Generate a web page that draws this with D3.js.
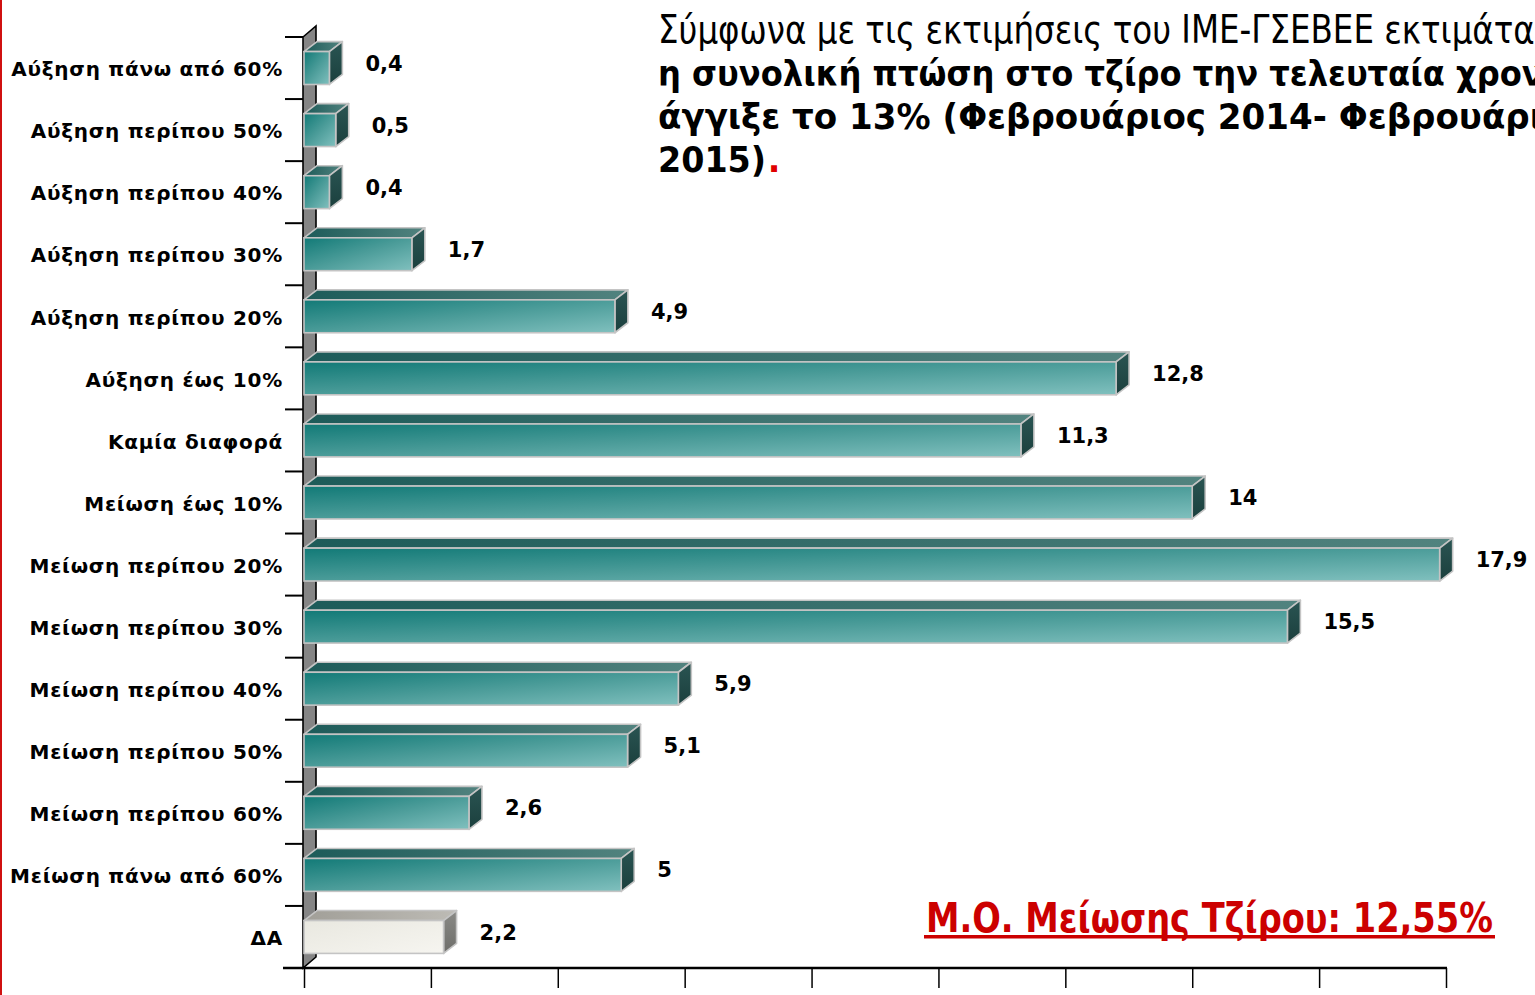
<!DOCTYPE html>
<html><head><meta charset="utf-8">
<script src="https://cdn.jsdelivr.net/npm/d3@7"></script>
<style>html,body{margin:0;padding:0;background:#fff;overflow:hidden}</style>
</head><body>
<svg id="c" width="1535" height="995" xmlns="http://www.w3.org/2000/svg"></svg>
<script>
const categories = ["Αύξηση πάνω από 60%","Αύξηση περίπου 50%","Αύξηση περίπου 40%","Αύξηση περίπου 30%","Αύξηση περίπου 20%","Αύξηση έως 10%","Καμία διαφορά","Μείωση έως 10%","Μείωση περίπου 20%","Μείωση περίπου 30%","Μείωση περίπου 40%","Μείωση περίπου 50%","Μείωση περίπου 60%","Μείωση πάνω από 60%","ΔΑ"];
const values = [0.4,0.5,0.4,1.7,4.9,12.8,11.3,14,17.9,15.5,5.9,5.1,2.6,5,2.2];
const xTicks = [0,2,4,6,8,10,12,14,16,18];
const titleLines = [
  "Σύμφωνα με τις εκτιμήσεις του ΙΜΕ-ΓΣΕΒΕΕ εκτιμάται",
  "η συνολική πτώση στο τζίρο την τελευταία χρονιά",
  "άγγιξε το 13% (Φεβρουάριος 2014- Φεβρουάριος",
  "2015)"
];
// visible part of each title line, used to fit the condensed width
const titleVisible = [
  "Σύμφωνα με τις εκτιμήσεις του ΙΜΕ-ΓΣΕΒΕΕ εκτιμάτα",
  "η συνολική πτώση στο τζίρο την τελευταία χρο",
  "άγγιξε το 13% (Φεβρουάριος 2014- Φεβρουάρ",
  "2015)"
];
const avgNote = "Μ.Ο. Μείωσης Τζίρου: 12,55%";

const svg = d3.select("#c");
const W = 1535, H = 995;
const FONT = "'DejaVu Sans', Verdana, sans-serif";

// left red border
svg.append("rect").attr("x",0).attr("y",0).attr("width",2).attr("height",H).attr("fill","#d01010");

const x = d3.scaleLinear().domain([0,18]).range([304,1446]);
const y = d3.scaleBand().domain(categories).range([37,968]).padding(0);
const depthX = 13, depthY = 10;
const faceH = y.bandwidth()*0.53;

const defs = svg.append("defs");
function lg(id, stops, x2, y2){
  const g = defs.append("linearGradient").attr("id",id).attr("x1",0).attr("y1",0).attr("x2",x2).attr("y2",y2);
  stops.forEach(s=>g.append("stop").attr("offset",s[0]).attr("stop-color",s[1]));
}
lg("tealFront", [[0,"#127a77"],[0.5,"#4b9c99"],[1,"#80c0be"]], 1, 1);
lg("tealTop", [[0,"#1d5b59"],[1,"#52837f"]], 1, 0);
lg("tealSide", [[0,"#2a5553"],[1,"#1b3f3d"]], 0, 1);
lg("greyFront", [[0,"#e9e8e0"],[1,"#f6f5f0"]], 1, 1);
lg("greyTop", [[0,"#a19f98"],[1,"#bdbbb5"]], 1, 0);
lg("greySide", [[0,"#8a8a86"],[1,"#6e6e6a"]], 0, 1);

// wall
const x0 = x(0);
svg.append("polygon")
  .attr("points", [[x0-1, y.range()[0]],[x0-1+depthX, y.range()[0]-depthY-1],[x0-1+depthX, y.range()[1]-depthY-1],[x0-1, y.range()[1]]].map(p=>p.join(",")).join(" "))
  .attr("fill","#858585").attr("stroke","#000").attr("stroke-width",1.6);

// left category ticks
svg.append("g").selectAll("line").data(categories).join("line")
  .attr("x1", x0-19).attr("x2", x0-1)
  .attr("y1", d=>y(d)).attr("y2", d=>y(d))
  .attr("stroke","#000").attr("stroke-width",2);

// x axis
const axisG = svg.append("g").attr("transform",`translate(0,${y.range()[1]})`)
  .call(d3.axisBottom(x).tickValues(xTicks).tickSize(20).tickFormat(d=>d));
axisG.select(".domain").remove();
axisG.selectAll(".tick line").attr("stroke","#000").attr("stroke-width",1.5);
axisG.selectAll(".tick text").attr("font-family",FONT).attr("font-size",20).attr("font-weight","bold").attr("fill","#000").attr("dy","0.88em");
svg.append("line").attr("x1", x0-21).attr("x2", x(18)+1)
  .attr("y1", y.range()[1]).attr("y2", y.range()[1]).attr("stroke","#000").attr("stroke-width",2.5);

// bars
const bars = svg.append("g").selectAll("g").data(categories.map((c,i)=>({c, v: values[i], da: c==="ΔΑ"}))).join("g");
bars.each(function(d){
  const g = d3.select(this);
  const xa = x(0), xb = x(d.v);
  const t = y(d.c) + (y.bandwidth()-faceH)/2, b = t + faceH;
  const pre = d.da ? "grey" : "teal";
  const st = "#c4c4c4";
  g.append("polygon").attr("points", [[xa,t],[xa+depthX,t-depthY],[xb+depthX,t-depthY],[xb,t]].map(p=>p.join(",")).join(" "))
    .attr("fill",`url(#${pre}Top)`).attr("stroke",st).attr("stroke-width",1.6).attr("stroke-linejoin","round");
  g.append("polygon").attr("points", [[xb,t],[xb+depthX,t-depthY],[xb+depthX,b-depthY],[xb,b]].map(p=>p.join(",")).join(" "))
    .attr("fill",`url(#${pre}Side)`).attr("stroke",st).attr("stroke-width",1.6).attr("stroke-linejoin","round");
  g.append("rect").attr("x",xa).attr("y",t).attr("width",xb-xa).attr("height",faceH)
    .attr("fill",`url(#${pre}Front)`).attr("stroke",st).attr("stroke-width",1.6);
  g.append("text").attr("x", xb+depthX+23).attr("y", y(d.c)+y.bandwidth()/2-5).attr("dy","0.36em")
    .attr("font-family",FONT).attr("font-weight","bold").attr("font-size",21).attr("fill","#000")
    .text(String(d.v).replace(".",","));
});

// category labels
svg.append("g").selectAll("text").data(categories).join("text")
  .attr("x", x0-21).attr("y", d=>y(d)+y.bandwidth()/2+1).attr("dy","0.36em")
  .attr("text-anchor","end").attr("font-family",FONT).attr("font-weight","bold").attr("font-size",20)
  .attr("letter-spacing",0.75).attr("fill","#000").text(d=>d);

// title block (condensed by horizontal scaling)
function measure(str, size, weight){
  const t = svg.append("text").attr("font-family",FONT).attr("font-size",size).attr("font-weight",weight).text(str);
  const w = t.node().getComputedTextLength(); t.remove(); return w;
}
const tx = 658;
const titleTargets = [877, 864, 872, 108];
const baselines = [43, 86, 129, 172];
const titleG = svg.append("g");
titleLines.forEach((line,i)=>{
  const bold = i>0;
  const size = bold ? 36 : 39;
  const k = titleTargets[i] / measure(titleVisible[i], size, bold?"bold":"normal");
  const t = titleG.append("text").attr("transform",`translate(${tx},${baselines[i]}) scale(${k},1)`)
    .attr("font-family",FONT).attr("font-size", size).attr("font-weight", bold?"bold":"normal").attr("fill","#000");
  t.append("tspan").text(line);
  if(i===3) t.append("tspan").attr("fill","#e00000").attr("dx",2).text(".");
});

// average note
const nk = 567 / measure(avgNote, 41, "bold");
svg.append("text").attr("transform",`translate(926,932) scale(${nk},1)`)
  .attr("font-family",FONT).attr("font-size",41).attr("font-weight","bold").attr("fill","#cc0000").text(avgNote);
svg.append("rect").attr("x",924).attr("y",935).attr("width",571).attr("height",3.5).attr("fill","#cc0000");
</script>
</body></html>
